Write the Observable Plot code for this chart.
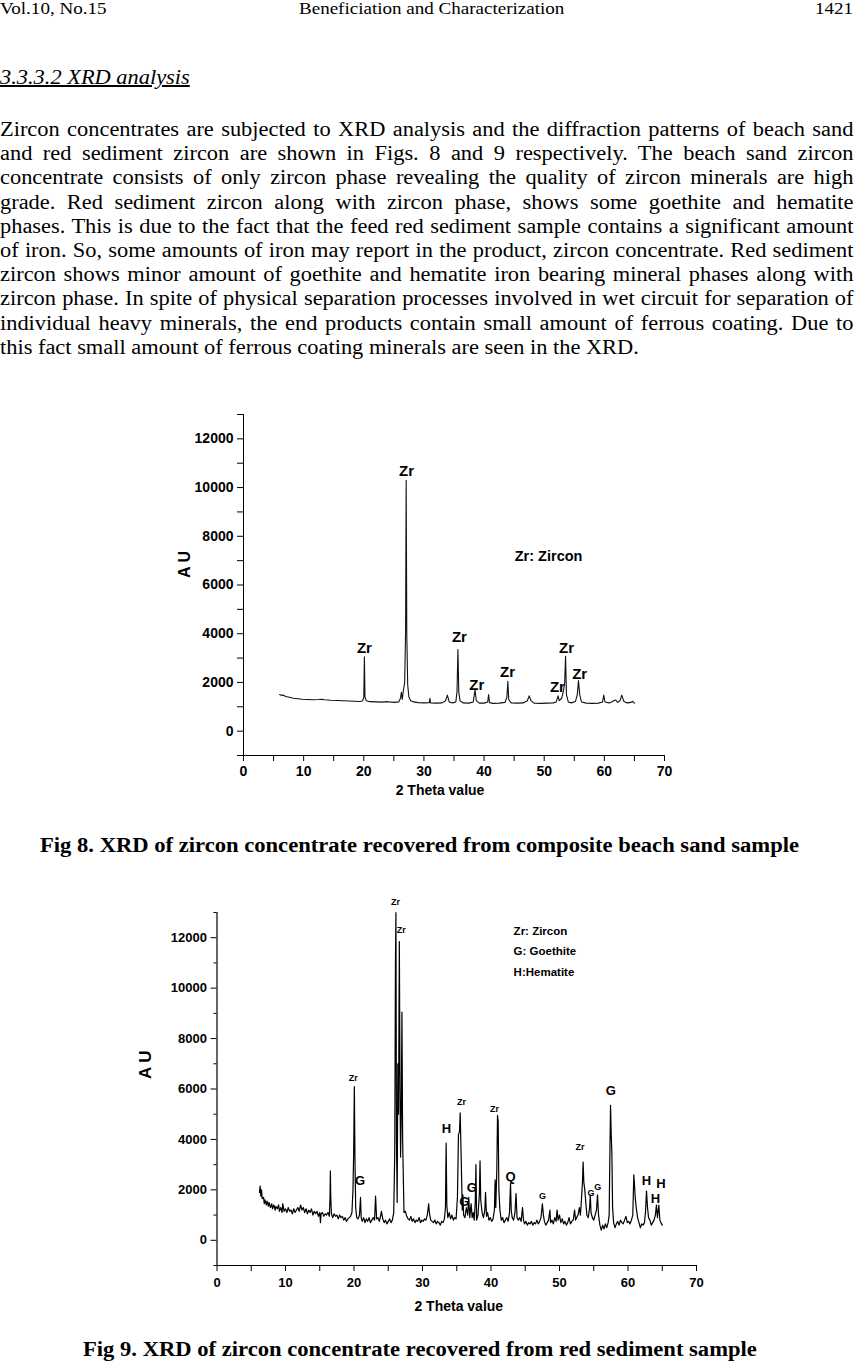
<!DOCTYPE html>
<html>
<head>
<meta charset="utf-8">
<script src="https://cdn.jsdelivr.net/npm/d3@7"></script>
<script src="https://cdn.jsdelivr.net/npm/@observablehq/plot@0.6"></script>
<style>
  html, body { margin: 0; padding: 0; background: #fff; }
  #page { position: relative; width: 854px; height: 1361px; overflow: hidden;
          font-family: "Liberation Serif", "Times New Roman", serif; color: #000; }
  .abs { position: absolute; white-space: nowrap; }
  .sx { transform-origin: 0 0; transform: scaleX(1.12); }
  .sxr { transform-origin: 100% 0; transform: scaleX(1.12); }
  .hdr { font-size: 17px; line-height: 18px; top: 0px; }
  .para { position: absolute; left: 0; width: 762px; font-size: 20px; line-height: 24px;
          white-space: nowrap; text-align: justify; text-align-last: justify;
          transform-origin: 0 0; transform: scaleX(1.12); }
  .para.last { text-align-last: left; }
  .cap { font-weight: bold; font-size: 20px; line-height: 24px; transform-origin: 0 0; transform: scaleX(1.13); }
</style>
</head>
<body>
<div id="page">
  <div class="abs hdr sx" style="left:0">Vol.10, No.15</div>
  <div class="abs hdr sx" style="left:299px">Beneficiation and Characterization</div>
  <div class="abs hdr sxr" style="right:1px">1421</div>
  <div class="abs sx" style="left:0;top:65px;font-size:20px;line-height:24px;font-style:italic;text-decoration:underline;">3.3.3.2 XRD analysis</div>
  <div id="para"></div>
  <div id="chart1" class="abs" style="left:130px;top:400px;"></div>
  <div class="abs cap" style="left:40px;top:833px;">Fig 8. XRD of zircon concentrate recovered from composite beach sand sample</div>
  <div id="chart2" class="abs" style="left:100px;top:890px;"></div>
  <div class="abs cap" style="left:83px;top:1337px;">Fig 9. XRD of zircon concentrate recovered from red sediment sample</div>
</div>
<script>
// ---------- paragraph text ----------
const paragraphLines = [
  "Zircon concentrates are subjected to XRD analysis and the diffraction patterns of beach sand",
  "and red sediment zircon are shown in Figs. 8 and 9 respectively. The beach sand zircon",
  "concentrate consists of only zircon phase revealing the quality of zircon minerals are high",
  "grade. Red sediment zircon along with zircon phase, shows some goethite and hematite",
  "phases. This is due to the fact that the feed red sediment sample contains a significant amount",
  "of iron. So, some amounts of iron may report in the product, zircon concentrate. Red sediment",
  "zircon shows minor amount of goethite and hematite iron bearing mineral phases along with",
  "zircon phase. In spite of physical separation processes involved in wet circuit for separation of",
  "individual heavy minerals, the end products contain small amount of ferrous coating. Due to",
  "this fact small amount of ferrous coating minerals are seen in the XRD."
];

// ---------- Fig 8 data (beach sand zircon) ----------
const theta1 = [6.0,6.3,6.6,7.0,7.4,7.8,8.3,9.0,9.8,10.5,11.5,12.5,13.0,13.5,14.5,15.5,16.5,17.5,18.5,19.3,19.8,20.0,20.1,20.2,20.4,21,22,23,24,25,25.8,26.1,26.25,26.4,26.6,26.8,26.95,27.05,27.15,27.3,27.5,27.8,28.3,29,30,30.9,31.0,31.1,32,33,33.6,33.9,34.2,34.8,35.3,35.5,35.65,35.8,36.0,36.5,37.5,38.2,38.5,38.7,39.2,40,40.6,40.75,40.9,41.5,42.5,43.5,43.8,43.95,44.1,44.5,45.5,46.5,47.2,47.5,47.8,48.3,49.5,50.5,51.5,52.0,52.3,52.5,52.9,53.2,53.4,53.55,53.7,54.0,54.5,55.2,55.5,55.7,55.9,56.2,57,58,59,59.7,59.9,60.1,60.8,61.2,61.6,61.9,62.2,62.6,62.9,63.2,63.6,64,64.5,64.7,65];
const au1 = [1500,1470,1480,1420,1400,1380,1350,1330,1310,1300,1290,1300,1310,1290,1270,1260,1250,1240,1230,1220,1240,1400,3050,1400,1250,1210,1200,1190,1210,1180,1200,1350,1600,1300,1700,2000,4100,10300,4000,1900,1400,1250,1200,1170,1160,1170,1350,1160,1150,1160,1250,1480,1200,1160,1200,1600,3350,1600,1250,1160,1150,1200,1700,1250,1150,1150,1200,1500,1170,1140,1150,1180,1400,2050,1300,1160,1150,1160,1250,1450,1250,1150,1140,1150,1160,1200,1450,1250,1350,1650,2000,3070,1500,1200,1160,1220,1500,2080,1500,1200,1150,1140,1150,1200,1480,1200,1160,1200,1260,1280,1180,1250,1480,1240,1170,1160,1190,1220,1150];
const labelText1 = ["Zr","Zr","Zr","Zr","Zr","Zr","Zr","Zr"];
const labelTheta1 = [20.1,27.1,35.9,38.8,43.9,52.2,53.7,55.9];
const labelAU1 = [3400,10660,3850,1890,2420,1800,3400,2340];
const legend1 = ["Zr: Zircon"];

// ---------- Fig 9 data (red sediment zircon) ----------
const theta2 = [6.2,6.3,6.4,6.5,6.6,6.8,6.9,7.0,7.2,7.3,7.5,7.6,7.8,8.0,8.1,8.3,8.5,8.6,8.8,9.0,9.1,9.3,9.5,9.6,9.8,10.0,10.2,10.4,10.6,10.8,11.0,11.2,11.4,11.6,11.8,12.0,12.2,12.4,12.6,12.8,13.0,13.2,13.4,13.6,13.8,14.0,14.2,14.4,14.6,14.8,15.0,15.1,15.2,15.4,15.6,15.8,16.0,16.2,16.4,16.5,16.55,16.6,16.7,16.9,17.1,17.3,17.5,17.7,17.9,18.1,18.3,18.5,18.7,18.9,19.1,19.3,19.5,19.7,19.85,19.95,20.05,20.15,20.25,20.4,20.6,20.8,20.95,21.05,21.2,21.4,21.6,21.8,22.0,22.2,22.4,22.6,22.8,23.0,23.15,23.3,23.5,23.7,23.9,24.0,24.2,24.4,24.6,24.8,25.0,25.2,25.4,25.6,25.8,25.95,26.05,26.12,26.2,26.3,26.4,26.5,26.62,26.72,26.8,26.9,27.0,27.1,27.2,27.3,27.5,27.7,27.9,28.1,28.3,28.5,28.7,28.9,29.1,29.3,29.5,29.7,29.9,30.1,30.3,30.5,30.7,30.9,31.0,31.2,31.4,31.6,31.8,32.0,32.2,32.4,32.6,32.8,33.0,33.2,33.35,33.45,33.55,33.7,33.9,34.1,34.3,34.5,34.7,34.9,35.1,35.25,35.4,35.5,35.6,35.7,35.8,35.9,36.0,36.2,36.4,36.6,36.75,36.9,37.1,37.25,37.4,37.55,37.7,37.8,37.9,38.1,38.3,38.4,38.5,38.7,38.9,39.1,39.2,39.35,39.5,39.7,39.9,40.1,40.3,40.5,40.6,40.7,40.85,40.95,41.05,41.15,41.3,41.5,41.7,41.9,42.1,42.3,42.5,42.7,42.85,42.95,43.1,43.3,43.5,43.65,43.8,44.0,44.2,44.4,44.6,44.75,44.9,45.1,45.3,45.5,45.7,45.9,46.1,46.3,46.5,46.7,46.9,47.1,47.3,47.5,47.65,47.8,48.0,48.2,48.4,48.6,48.7,48.9,49.1,49.3,49.5,49.65,49.8,50.0,50.2,50.4,50.6,50.8,51.0,51.2,51.4,51.6,51.8,52.0,52.2,52.35,52.5,52.7,52.9,53.05,53.2,53.35,53.45,53.55,53.65,53.75,53.9,54.0,54.2,54.4,54.5,54.6,54.8,55.0,55.2,55.4,55.55,55.7,55.9,56.1,56.3,56.5,56.7,56.9,57.1,57.25,57.35,57.45,57.55,57.65,57.75,57.9,58.1,58.3,58.5,58.7,58.9,59.1,59.3,59.5,59.7,59.9,60.1,60.3,60.5,60.7,60.85,60.95,61.05,61.2,61.4,61.6,61.8,62.0,62.2,62.4,62.55,62.7,62.85,63.0,63.2,63.4,63.6,63.8,64.0,64.15,64.3,64.5,64.65,64.8,65.0];
const au2 = [1900,2150,1750,2000,1650,1700,1450,1600,1400,1550,1350,1500,1300,1450,1250,1400,1200,1350,1250,1400,1150,1300,1100,1450,1150,1250,1100,1300,1150,1200,1050,1250,1100,1200,1300,1150,1400,1200,1300,1100,1250,1050,1200,1100,1250,1000,1150,1050,1150,950,1100,700,1050,1100,950,1050,1000,1100,950,1700,2750,1800,1050,900,1050,950,1000,850,1000,900,950,800,900,750,850,900,950,1100,2000,3450,6100,3000,1300,900,850,1000,1700,900,750,900,700,850,750,900,700,800,900,800,1750,850,900,750,1000,1150,850,700,800,650,750,850,700,800,1100,3500,10900,13000,4000,1500,7000,5000,11850,6000,3300,5000,9050,4000,2500,1100,1150,950,850,800,950,750,850,700,800,750,900,700,800,750,850,800,1000,1450,1100,800,750,700,800,650,750,700,600,750,700,850,1300,3850,1400,900,1100,850,1000,800,900,850,1700,4200,4300,5050,3900,2600,1200,1800,1000,900,1300,1000,1700,900,1450,900,1100,800,1500,3000,800,1000,1800,3150,1600,1100,900,1200,1900,950,1100,800,900,750,850,1200,2400,1300,2800,4950,4700,2000,1200,800,900,700,800,900,750,1100,2250,1200,900,800,1100,1850,900,800,900,750,1300,800,650,750,600,700,650,750,600,700,650,800,650,750,900,1450,1000,750,600,700,800,1200,700,800,650,900,750,1200,800,1000,700,850,650,750,600,700,900,650,750,800,1200,800,900,1000,1300,1000,1600,2300,3100,2300,2100,1800,1300,1000,900,1300,1800,1100,900,800,1000,1200,1800,1000,600,400,600,450,650,500,700,1000,3300,5350,4200,3400,1300,700,500,650,750,600,800,700,650,800,950,700,750,650,800,1000,2600,2200,1700,1300,900,700,500,650,600,700,1100,1950,1300,900,800,600,700,800,1000,1400,900,1400,800,700,600];
const smallText2 = ["Zr","Zr","Zr","Zr","Zr","Zr","G","G","G"];
const smallTheta2 = [26.06,26.9,19.9,35.7,40.5,53.0,47.5,54.6,55.6];
const smallAU2 = [13400,12300,6430,5470,5200,3690,1745,1865,2100];
const bigText2 = ["G","H","G","G","Q","G","H","H","H"];
const bigTheta2 = [20.9,33.5,37.2,36.1,42.85,57.5,62.7,64.8,64.0];
const bigAU2 = [2340,4440,2080,1520,2500,5910,2340,2220,1640];
const legend2 = ["Zr: Zircon","G: Goethite","H:Hematite"];
const legendAU2 = [12260,11460,10630];

// ---------- shared ----------
const xMinor = d3.range(0, 71, 5);
const yMajor = d3.range(0, 12001, 2000);
const yMinor = d3.range(-1000, 13001, 1000);

// paragraph
const para = document.getElementById("para");
paragraphLines.forEach((t, i) => {
  const d = document.createElement("div");
  d.className = "para" + (i === paragraphLines.length - 1 ? " last" : "");
  d.style.top = (117 + 24.2 * i) + "px";
  d.textContent = t;
  para.appendChild(d);
});

const sans = "'Liberation Sans', Arial, sans-serif";

const data1 = theta1.map((x, i) => ({x, y: au1[i]}));
const labels1 = labelText1.map((t, i) => ({t, x: labelTheta1[i], y: labelAU1[i]}));

const chart1 = Plot.plot({
  width: 560, height: 420,
  marginLeft: 113, marginRight: 26, marginTop: 14, marginBottom: 65,
  style: {fontFamily: sans, fontWeight: "bold", fontSize: "14px", color: "#000", background: "none", overflow: "visible"},
  x: {domain: [0, 70], label: null},
  y: {domain: [-1000, 13000], label: null},
  marks: [
    Plot.axisX({ticks: xMinor, tickFormat: d => (d % 10 === 0 ? d : ""), tickSize: 6, tickPadding: 5, label: null, fontSize: 14, fontWeight: "bold"}),
    Plot.axisY({ticks: yMinor, tickFormat: d => (d >= 0 && d % 2000 === 0 ? String(d) : ""), tickSize: 6, tickPadding: 4, label: null, fontSize: 14, fontWeight: "bold"}),
    Plot.ruleX([0], {stroke: "#000"}),
    Plot.ruleY([-1000], {stroke: "#000"}),
    Plot.line(data1, {x: "x", y: "y", stroke: "#111", strokeWidth: 1.1}),
    Plot.text(labels1, {x: "x", y: "y", text: "t", fontSize: 15, fontWeight: "bold"}),
    Plot.text(legend1, {x: 45.1, y: 7170, text: d => d, textAnchor: "start", fontSize: 14.5, fontWeight: "bold"}),
    Plot.text(["A U"], {frameAnchor: "left", text: d => d, dx: -59, dy: -7, rotate: -90, fontSize: 16, fontWeight: "bold"}),
    Plot.text(["2 Theta value"], {frameAnchor: "bottom", text: d => d, dx: -14, dy: 39, fontSize: 14, fontWeight: "bold"})
  ]
});
document.getElementById("chart1").appendChild(chart1);

const data2 = theta2.map((x, i) => ({x, y: au2[i]}));
const small2 = smallText2.map((t, i) => ({t, x: smallTheta2[i], y: smallAU2[i]}));
const big2 = bigText2.map((t, i) => ({t, x: bigTheta2[i], y: bigAU2[i]}));
const leg2 = legend2.map((t, i) => ({t, y: legendAU2[i]}));

const chart2 = Plot.plot({
  width: 620, height: 440,
  marginLeft: 116.5, marginRight: 24, marginTop: 22, marginBottom: 65,
  style: {fontFamily: sans, fontWeight: "bold", fontSize: "13px", color: "#000", background: "none", overflow: "visible"},
  x: {domain: [0, 70], label: null},
  y: {domain: [-1000, 13000], label: null},
  marks: [
    Plot.axisX({ticks: xMinor, tickFormat: d => (d % 10 === 0 ? d : ""), tickSize: 6, tickPadding: 6, label: null, fontSize: 13, fontWeight: "bold"}),
    Plot.axisY({ticks: yMinor.filter(d => !(d >= 0 && d <= 12000 && d % 2000 === 0)), tickFormat: () => "", tickSize: 3, label: null}),
    Plot.axisY({ticks: yMajor, tickFormat: d => String(d), tickSize: 6, tickPadding: 4, label: null, fontSize: 13, fontWeight: "bold"}),
    Plot.ruleX([0], {stroke: "#000", strokeWidth: 1.2}),
    Plot.ruleY([-1000], {stroke: "#000", strokeWidth: 1.2}),
    Plot.line(data2, {x: "x", y: "y", stroke: "#000", strokeWidth: 1.2}),
    Plot.text(small2, {x: "x", y: "y", text: "t", fontSize: 9, fontWeight: "bold"}),
    Plot.text(big2, {x: "x", y: "y", text: "t", fontSize: 13, fontWeight: "bold"}),
    Plot.text(leg2, {x: 43.3, y: "y", text: "t", textAnchor: "start", fontSize: 11.5, fontWeight: "bold"}),
    Plot.text(["A U"], {frameAnchor: "left", text: d => d, dx: -71, dy: -10, rotate: -90, fontSize: 17, fontWeight: "bold"}),
    Plot.text(["2 Theta value"], {frameAnchor: "bottom", text: d => d, dx: 2, dy: 45, fontSize: 14, fontWeight: "bold"})
  ]
});
document.getElementById("chart2").appendChild(chart2);
</script>
</body>
</html>
